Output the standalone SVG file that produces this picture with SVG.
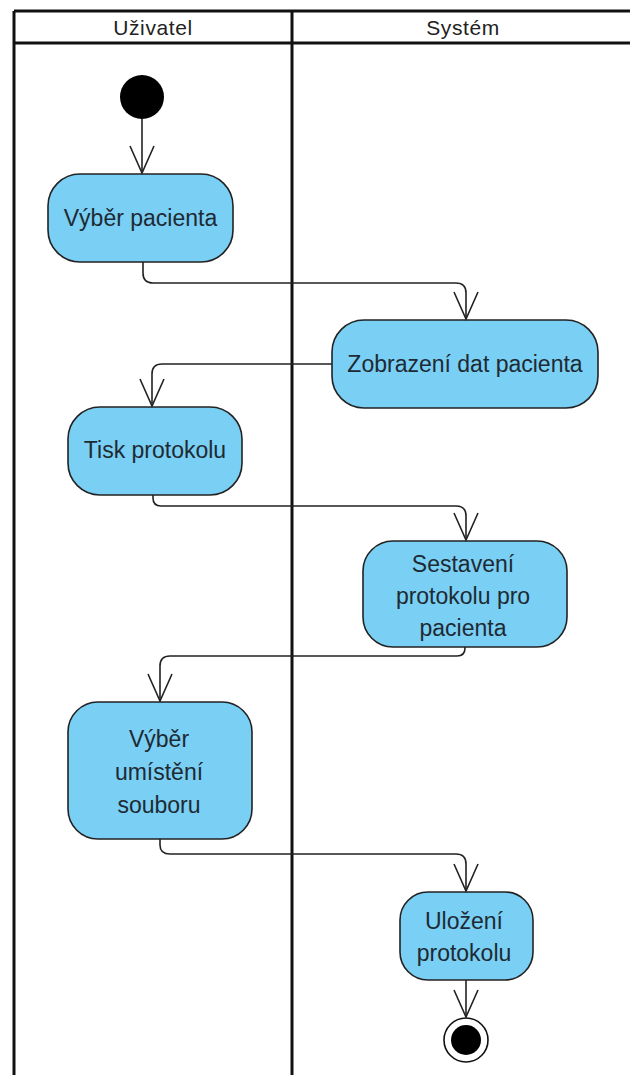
<svg xmlns="http://www.w3.org/2000/svg" width="630" height="1075" viewBox="0 0 630 1075">
<style>
.lane{stroke:#111;stroke-width:3;fill:none}
.hdr{font-family:"Liberation Sans",Arial,sans-serif;font-size:21px;fill:#222;text-anchor:middle;letter-spacing:0.6px}
.act{fill:#7acff4;stroke:#222;stroke-width:1.6}
.lbl{font-family:"Liberation Sans",Arial,sans-serif;font-size:23px;fill:#1e2a33;text-anchor:middle}
.edge{fill:none;stroke:#222;stroke-width:1.6;marker-end:url(#arr)}
</style>
<defs>
<marker id="arr" viewBox="-30 -15 32 30" refX="0" refY="0" markerWidth="32" markerHeight="30" markerUnits="userSpaceOnUse" orient="auto">
<path d="M-27,-12 L0,0 L-27,12" fill="none" stroke="#222" stroke-width="1.6"/>
</marker>
</defs>
<rect width="630" height="1075" fill="#fff"/>
<g id="swimlanes">
<line class="lane" x1="14" y1="11" x2="14" y2="1075"/>
<line class="lane" x1="292" y1="11" x2="292" y2="1075"/>
<line class="lane" x1="14" y1="11" x2="630" y2="11"/>
<line class="lane" x1="14" y1="43" x2="630" y2="43"/>
<text class="hdr" x="153" y="35">Uživatel</text>
<text class="hdr" x="463" y="35">Systém</text>
</g>
<g id="start"><circle cx="142" cy="97" r="22" fill="#000"/></g>
<g id="n1"><rect class="act" x="48" y="174" width="185" height="88" rx="32"/><text class="lbl" x="140.5" y="226">Výběr pacienta</text></g>
<g id="n2"><rect class="act" x="332" y="320" width="266" height="88" rx="32"/><text class="lbl" x="465" y="372">Zobrazení dat pacienta</text></g>
<g id="n3"><rect class="act" x="68" y="407" width="174" height="88" rx="32"/><text class="lbl" x="155" y="458">Tisk protokolu</text></g>
<g id="n4"><rect class="act" x="363" y="541" width="204" height="106" rx="30"/><text class="lbl" x="463" y="572">Sestavení</text><text class="lbl" x="463" y="604">protokolu pro</text><text class="lbl" x="463" y="636">pacienta</text></g>
<g id="n5"><rect class="act" x="68" y="702" width="184" height="137" rx="30"/><text class="lbl" x="159" y="747">Výběr</text><text class="lbl" x="159" y="780">umístění</text><text class="lbl" x="159" y="813">souboru</text></g>
<g id="n6"><rect class="act" x="400" y="892" width="133" height="88" rx="28"/><text class="lbl" x="464" y="929">Uložení</text><text class="lbl" x="464" y="961">protokolu</text></g>
<g id="end"><circle cx="466" cy="1040" r="22" fill="#fff" stroke="#111" stroke-width="1.6"/><circle cx="466" cy="1040" r="15" fill="#000"/></g>
<g id="connectors">
<path class="edge" d="M142,119 V173"/>
<path class="edge" d="M143,262 V273 Q143,283 153,283 H456 Q466,283 466,293 V319"/>
<path class="edge" d="M332,364 H162 Q152,364 152,374 V406"/>
<path class="edge" d="M153,495 V498 Q153,506 161,506 H456 Q466,506 466,516 V540"/>
<path class="edge" d="M465,647 V648 Q465,656 457,656 H170 Q160,656 160,666 V701"/>
<path class="edge" d="M160,839 V845 Q160,854 170,854 H456 Q466,854 466,864 V891"/>
<path class="edge" d="M466,980 V1017"/>
</g>
</svg>
